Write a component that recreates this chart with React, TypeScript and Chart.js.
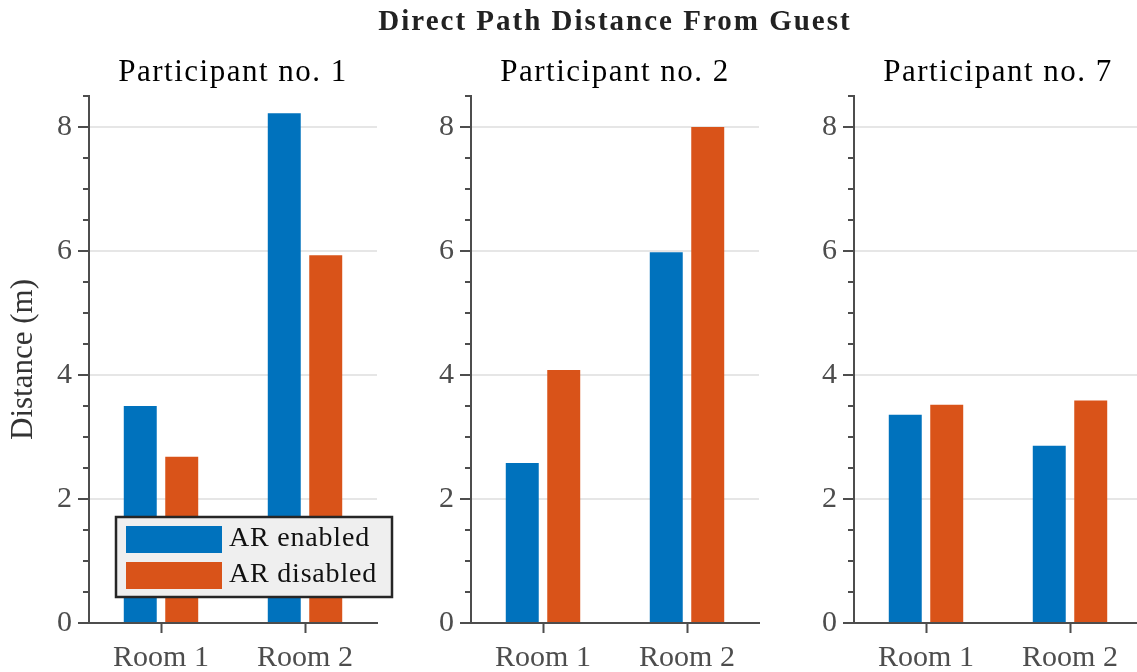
import React, { useEffect, useRef } from 'react';
import { Chart, registerables } from 'chart.js';

Chart.register(...registerables);

// ---------- data ----------
const CATEGORIES = ['Room 1', 'Room 2'];
const SERIES_LABELS = ['AR enabled', 'AR disabled'];
const SERIES_COLORS = ['#0072BD', '#D95319'];

const P1_AR_ENABLED = [3.5, 8.22];
const P1_AR_DISABLED = [2.68, 5.93];
const P2_AR_ENABLED = [2.58, 5.98];
const P2_AR_DISABLED = [4.08, 8.0];
const P7_AR_ENABLED = [3.36, 2.86];
const P7_AR_DISABLED = [3.52, 3.59];

const PANEL_TITLES = ['Participant no. 1', 'Participant no. 2', 'Participant no. 7'];
const MAIN_TITLE = 'Direct Path Distance From Guest';
const Y_LABEL = 'Distance (m)';
const Y_TICK_LABELS = [0, 2, 4, 6, 8];
const Y_MIN = 0;
const Y_MAX = 8.5;
const Y_MINOR_STEP = 0.5;

// ---------- style / layout ----------
const FONT = '"Liberation Serif", "Times New Roman", serif';
const AXIS_COLOR = '#4d4d4d';
const TICK_TEXT = '#4d4d4d';
const GRID_COLOR = '#e6e6e6';
const W = 1137;
const H = 672;
const PLOT_TOP = 96;
const X_AXIS_H = 49;
const PLOT_LEFTS = [89, 471, 854];
const PLOT_W = 288;

const decorPlugin = {
  id: 'decor',
  afterDraw(chart: any, _args: any, opts: any) {
    const { ctx, chartArea } = chart;
    const y = chart.scales.y;
    ctx.save();
    // y tick marks (major longer, minor shorter), pointing outward
    ctx.strokeStyle = AXIS_COLOR;
    ctx.lineWidth = 2;
    y.ticks.forEach((t: any) => {
      const py = Math.round(y.getPixelForValue(t.value));
      const major = Y_TICK_LABELS.includes(t.value);
      const len = major ? 11 : 6;
      ctx.beginPath();
      ctx.moveTo(chartArea.left - len, py);
      ctx.lineTo(chartArea.left, py);
      ctx.stroke();
    });
    // panel title
    ctx.fillStyle = '#000';
    ctx.font = `31px ${FONT}`;
    ctx.textAlign = 'center';
    ctx.textBaseline = 'alphabetic';
    try { (ctx as any).letterSpacing = '1.5px'; } catch (e) {}
    ctx.fillText(opts.subtitle, (chartArea.left + chartArea.right) / 2, 81);
    try { (ctx as any).letterSpacing = '0px'; } catch (e) {}

    if (opts.showTitle) {
      ctx.fillStyle = '#222';
      ctx.font = `bold 29px ${FONT}`;
      try { (ctx as any).letterSpacing = '2px'; } catch (e) {}
      ctx.fillText(MAIN_TITLE, 615, 30);
      try { (ctx as any).letterSpacing = '0px'; } catch (e) {}
    }

    if (opts.showLegend) {
      const bx = 116, by = 517, bw = 276, bh = 80;
      ctx.fillStyle = '#efefef';
      ctx.fillRect(bx, by, bw, bh);
      ctx.strokeStyle = '#262626';
      ctx.lineWidth = 2.5;
      ctx.strokeRect(bx, by, bw, bh);
      ctx.font = `28px ${FONT}`;
      ctx.textAlign = 'left';
      ctx.textBaseline = 'alphabetic';
      chart.data.datasets.forEach((ds: any, i: number) => {
        const ry = by + 9 + i * 36;
        ctx.fillStyle = ds.backgroundColor;
        ctx.fillRect(bx + 10, ry, 96, 27);
        ctx.fillStyle = '#111';
        try { (ctx as any).letterSpacing = '0.8px'; } catch (e) {}
        ctx.fillText(ds.label, bx + 113, ry + 20);
        try { (ctx as any).letterSpacing = '0px'; } catch (e) {}
      });
    }
    ctx.restore();
  },
};

function makeConfig(panel: number, enabled: number[], disabled: number[]): any {
  const left = PLOT_LEFTS[panel];
  const yWidth = panel === 0 ? left : 60;
  const canvasW = panel === 2 ? 1150 : W;
  return {
    type: 'bar',
    data: {
      labels: CATEGORIES,
      datasets: [
        { label: SERIES_LABELS[0], data: enabled, backgroundColor: SERIES_COLORS[0], borderWidth: 0 },
        { label: SERIES_LABELS[1], data: disabled, backgroundColor: SERIES_COLORS[1], borderWidth: 0 },
      ],
    },
    options: {
      responsive: false,
      animation: false,
      devicePixelRatio: 1,
      categoryPercentage: 0.576,
      barPercentage: 0.795,
      layout: {
        padding: {
          left: left - yWidth,
          right: canvasW - (left + PLOT_W),
          top: PLOT_TOP,
          bottom: 0,
        },
      },
      plugins: {
        legend: { display: false },
        title: { display: false },
        tooltip: { enabled: false },
        decor: {
          subtitle: PANEL_TITLES[panel],
          showTitle: panel === 1,
          showLegend: panel === 0,
        },
      },
      scales: {
        x: {
          type: 'category',
          offset: true,
          z: 1,
          afterFit: (s: any) => { s.height = X_AXIS_H; },
          grid: {
            offset: false,
            drawOnChartArea: false,
            drawTicks: true,
            tickLength: 10,
            tickColor: AXIS_COLOR,
            tickWidth: 2,
          },
          border: { display: true, color: AXIS_COLOR, width: 2 },
          ticks: {
            color: TICK_TEXT,
            padding: 7,
            font: { family: FONT, size: 30 },
            maxRotation: 0,
          },
        },
        y: {
          type: 'linear',
          min: Y_MIN,
          max: Y_MAX,
          afterFit: (s: any) => { s.width = yWidth; },
          grid: {
            drawTicks: false,
            lineWidth: 2,
            color: (c: any) =>
              c.tick && c.tick.value > 0 && Y_TICK_LABELS.includes(c.tick.value) ? GRID_COLOR : 'rgba(0,0,0,0)',
          },
          border: { display: true, color: AXIS_COLOR, width: 2 },
          ticks: {
            stepSize: Y_MINOR_STEP,
            autoSkip: false,
            padding: 17,
            color: TICK_TEXT,
            font: { family: FONT, size: 30 },
            callback: (v: any) => (Y_TICK_LABELS.includes(v) ? String(v) : ''),
          },
          title: {
            display: panel === 0,
            text: Y_LABEL,
            color: '#333',
            font: { family: FONT, size: 31 },
            padding: { top: 5, bottom: 0 },
          },
        },
      },
    },
    plugins: [decorPlugin],
  };
}

export default function App() {
  const r1 = useRef<HTMLCanvasElement>(null);
  const r2 = useRef<HTMLCanvasElement>(null);
  const r3 = useRef<HTMLCanvasElement>(null);

  useEffect(() => {
    document.body.style.margin = '0';
    const charts = [
      new Chart(r1.current as HTMLCanvasElement, makeConfig(0, P1_AR_ENABLED, P1_AR_DISABLED)),
      new Chart(r2.current as HTMLCanvasElement, makeConfig(1, P2_AR_ENABLED, P2_AR_DISABLED)),
      new Chart(r3.current as HTMLCanvasElement, makeConfig(2, P7_AR_ENABLED, P7_AR_DISABLED)),
    ];
    return () => charts.forEach((c) => c.destroy());
  }, []);

  const cs: React.CSSProperties = { position: 'absolute', left: 0, top: 0 };
  return (
    <div style={{ position: 'relative', width: W, height: H, overflow: 'hidden', background: '#fff' }}>
      <canvas ref={r1} width={W} height={H} style={{ ...cs, width: W, height: H }} />
      <canvas ref={r2} width={W} height={H} style={{ ...cs, width: W, height: H }} />
      <canvas ref={r3} width={1150} height={H} style={{ ...cs, width: 1150, height: H }} />
    </div>
  );
}
